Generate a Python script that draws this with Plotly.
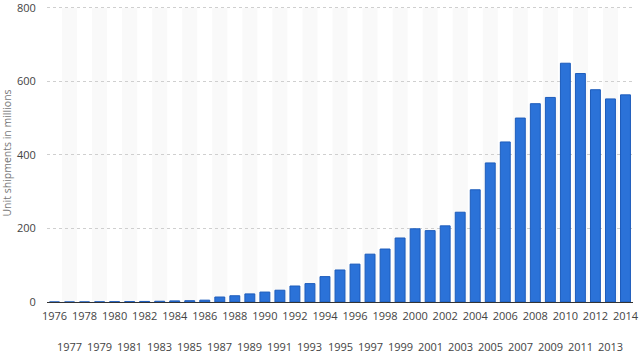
import plotly.graph_objects as go

years = [str(y) for y in range(1976, 2015)]
shipments = [0.05, 0.05, 0.2, 0.5, 0.8, 1.0, 1.5, 2.0, 3.0, 3.5,
             5, 13.5, 17, 22, 27, 32, 43.5, 50, 69, 87,
             103, 130, 144, 174, 199, 194, 207, 244, 305, 378,
             435, 500, 539, 556, 649, 621, 577, 552, 563]
even_years = years[0::2]
odd_years = years[1::2]
y_ticks = [0, 200, 400, 600, 800]

fig = go.Figure()

# alternating background bands on odd-year categories
for yr in odd_years:
    i = years.index(yr)
    fig.add_shape(type="rect", xref="x", yref="y",
                  x0=i - 0.5, x1=i + 0.5, y0=0, y1=800,
                  fillcolor="#f9f9f9", line_width=0, layer="below")

fig.add_trace(go.Bar(
    x=years, y=shipments,
    marker=dict(color="#2b72d8", line=dict(color="#1d5cbb", width=1)),
    width=0.66,
))

for yr in odd_years:
    fig.add_annotation(x=years.index(yr), y=-0.148, xref="x", yref="paper",
                       text=yr, showarrow=False, yanchor="middle",
                       font=dict(family="Open Sans", size=11, color="#444"))

fig.update_layout(
    width=640, height=354,
    margin=dict(l=47, r=7, t=4, b=52, autoexpand=False),
    paper_bgcolor="white", plot_bgcolor="white",
    showlegend=False,
    font=dict(family="Open Sans", size=11, color="#444"),
    xaxis=dict(
        type="category", automargin=False,
        tickmode="array", tickvals=even_years, ticktext=even_years,
        showgrid=False, ticks="outside", ticklen=4, tickcolor="rgba(0,0,0,0)",
        showline=True, linecolor="#333", linewidth=1,
        range=[-0.5, len(years) - 0.5],
        tickfont=dict(family="Open Sans", size=11, color="#444"),
    ),
    yaxis=dict(
        range=[0, 810], tickmode="array", tickvals=y_ticks,
        ticktext=[str(v) for v in y_ticks], automargin=False,
        ticklabeloverflow="allow",
        showgrid=True, gridcolor="#cfcfcf", griddash="dot", gridwidth=1,
        zeroline=False, showline=False,
        ticks="outside", ticklen=8, tickcolor="rgba(0,0,0,0)",
        tickfont=dict(family="Open Sans", size=11, color="#444"),
        title=dict(text="Unit shipments in millions",
                   font=dict(family="Open Sans", size=10.5, color="#777"),
                   standoff=4),
    ),
)

fig.write_html("out.html")
